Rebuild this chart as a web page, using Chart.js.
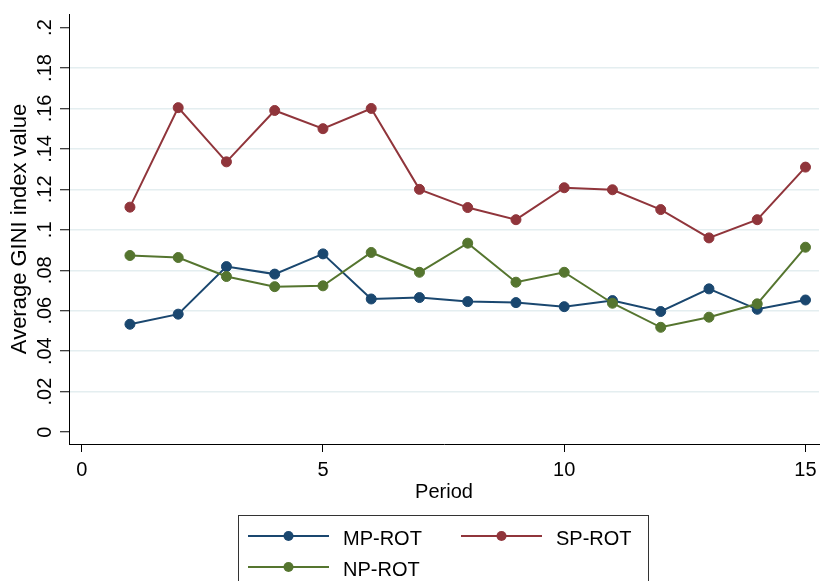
<!DOCTYPE html>
<html>
<head>
<meta charset="utf-8">
<script src="https://cdn.jsdelivr.net/npm/chart.js@4/dist/chart.umd.min.js"></script>
<style>
  html, body { margin: 0; padding: 0; background: #fff; }
  #wrap { width: 820px; height: 581px; position: relative; }
</style>
</head>
<body>
<div id="wrap"><canvas id="gini"></canvas></div>
<script>
const periods = [1, 2, 3, 4, 5, 6, 7, 8, 9, 10, 11, 12, 13, 14, 15];
const mpRot = [0.0533, 0.0583, 0.0818, 0.0781, 0.0881, 0.0658, 0.0665, 0.0645, 0.0640, 0.0620, 0.0650, 0.0596, 0.0708, 0.0607, 0.0653];
const spRot = [0.1112, 0.1604, 0.1336, 0.1590, 0.1500, 0.1600, 0.1200, 0.1110, 0.1050, 0.1208, 0.1198, 0.1100, 0.0960, 0.1050, 0.1310];
const npRot = [0.0873, 0.0863, 0.0769, 0.0719, 0.0723, 0.0888, 0.0790, 0.0934, 0.0741, 0.0790, 0.0637, 0.0518, 0.0568, 0.0634, 0.0914];
const xTickValues = [0, 5, 10, 15];
const xTickLabels = ['0', '5', '10', '15'];
const yTickValues = [0, 0.02, 0.04, 0.06, 0.08, 0.1, 0.12, 0.14, 0.16, 0.18, 0.2];
const yTickLabels = ['0', '.02', '.04', '.06', '.08', '.1', '.12', '.14', '.16', '.18', '.2'];

const FONT = 'Liberation Sans, Arial, sans-serif';
const toPoints = vals => periods.map((p, i) => ({ x: p, y: vals[i] }));

function series(label, vals, color, order) {
  return {
    label, data: toPoints(vals), order,
    borderColor: color, backgroundColor: color,
    borderWidth: 2, pointRadius: 5, pointBorderWidth: 1,
    pointBorderColor: color, pointBackgroundColor: color, tension: 0
  };
}

// y tick labels are drawn rotated, like the Stata output
const rotatedYLabels = {
  id: 'rotatedYLabels',
  afterDraw(chart) {
    const s = chart.scales.y;
    const ctx = chart.ctx;
    ctx.save();
    ctx.font = '20px ' + FONT;
    ctx.fillStyle = '#000';
    ctx.textAlign = 'center';
    ctx.textBaseline = 'alphabetic';
    s.ticks.forEach((t, i) => {
      const y = s.getPixelForValue(t.value);
      ctx.save();
      ctx.translate(51, y);
      ctx.rotate(-Math.PI / 2);
      ctx.fillText(yTickLabels[i], 0, 0);
      ctx.restore();
    });
    ctx.restore();
  }
};

// boxed legend with line + marker samples
const boxLegend = {
  id: 'boxLegend',
  afterDraw(chart) {
    const ctx = chart.ctx;
    const slots = [[248, 536], [461, 536], [248, 567]];
    ctx.save();
    ctx.strokeStyle = '#333';
    ctx.lineWidth = 1;
    ctx.strokeRect(238.5, 515.5, 410, 80);
    ctx.font = '20px ' + FONT;
    ctx.textBaseline = 'alphabetic';
    ctx.textAlign = 'left';
    chart.data.datasets.forEach((ds, i) => {
      const [x, y] = slots[i];
      ctx.strokeStyle = ds.borderColor;
      ctx.lineWidth = 2;
      ctx.beginPath();
      ctx.moveTo(x, y);
      ctx.lineTo(x + 81, y);
      ctx.stroke();
      ctx.fillStyle = ds.borderColor;
      ctx.beginPath();
      ctx.arc(x + 40.5, y, 5, 0, Math.PI * 2);
      ctx.fill();
      ctx.fillStyle = '#000';
      ctx.fillText(ds.label, x + 95, y + 8.5);
    });
    ctx.restore();
  }
};

new Chart(document.getElementById('gini'), {
  type: 'line',
  data: {
    datasets: [
      series('MP-ROT', mpRot, '#1a476f', 2),
      series('SP-ROT', spRot, '#90353b', 1),
      series('NP-ROT', npRot, '#55752f', 0)
    ]
  },
  options: {
    responsive: true,
    maintainAspectRatio: false,
    animation: false,
    events: [],
    layout: { autoPadding: false, padding: { left: 0, top: 14, right: 1, bottom: 77 } },
    plugins: { legend: { display: false }, tooltip: { enabled: false } },
    scales: {
      x: {
        type: 'linear', min: -0.263, max: 15.28,
        afterBuildTicks: s => { s.ticks = xTickValues.map(v => ({ value: v })); },
        afterFit: s => { s.height = 60; s.paddingLeft = 0; s.paddingRight = 0; },
        ticks: {
          autoSkip: false, maxRotation: 0, padding: 6, color: '#000',
          font: { family: FONT, size: 20 },
          callback: (v, i) => xTickLabels[i]
        },
        grid: { drawOnChartArea: false, tickLength: 8, tickColor: '#000', tickWidth: 1 },
        border: { color: '#000', width: 1 },
        title: {
          display: true, text: 'Period', color: '#000',
          font: { family: FONT, size: 20 }, padding: { top: 0, bottom: 0 }
        }
      },
      y: {
        type: 'linear', min: -0.0059, max: 0.2067,
        afterBuildTicks: s => { s.ticks = yTickValues.map(v => ({ value: v })); },
        afterFit: s => { s.width = 69; s.paddingTop = 0; s.paddingBottom = 0; },
        ticks: {
          color: 'rgba(0,0,0,0)', font: { family: FONT, size: 20 },
          callback: (v, i) => yTickLabels[i]
        },
        grid: {
          color: c => (c.tick && (c.tick.value === 0 || c.tick.value === 0.2)) ? 'rgba(0,0,0,0)' : '#e4eef0',
          lineWidth: 1.5, tickLength: 9, tickColor: '#000', tickWidth: 1
        },
        border: { color: '#000', width: 1 },
        title: {
          display: true, text: 'Average GINI index value', color: '#000',
          font: { family: FONT, size: 22 }, padding: { top: 7, bottom: 0 }
        }
      }
    }
  },
  plugins: [rotatedYLabels, boxLegend]
});
</script>
</body>
</html>
